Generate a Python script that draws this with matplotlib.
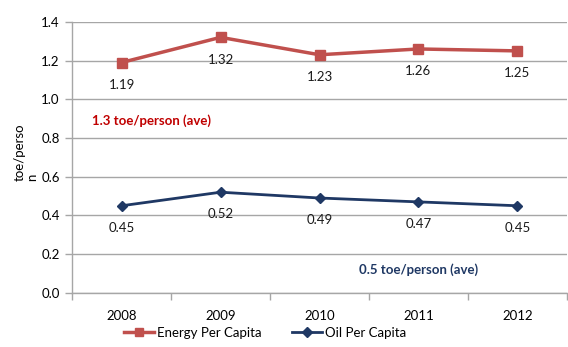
import matplotlib.pyplot as plt
import numpy as np

plt.rcParams['font.family'] = ['Lato', 'DejaVu Sans']

years = ['2008', '2009', '2010', '2011', '2012']
energy = [1.19, 1.32, 1.23, 1.26, 1.25]
oil = [0.45, 0.52, 0.49, 0.47, 0.45]

red = '#C0504D'
blue = '#1F3864'
grid = '#A6A6A6'

fig = plt.figure(figsize=(5.68, 3.47), dpi=100)
ax = fig.add_axes([0.127, 0.156, 0.871, 0.781])

x = np.arange(len(years))
ax.plot(x, energy, color=red, lw=2.5, marker='s', ms=6.5, label='Energy Per Capita')
ax.plot(x, oil, color=blue, lw=2.0, marker='D', ms=5.5, label='Oil Per Capita')

# value labels under each point
for xi, v in zip(x, energy):
    ax.annotate(f'{v:.2f}', (xi, v), xytext=(0, -16), textcoords='offset points',
                ha='center', va='center', fontsize=9.5, color='#1a1a1a')
for xi, v in zip(x, oil):
    ax.annotate(f'{v:.2f}', (xi, v), xytext=(0, -16), textcoords='offset points',
                ha='center', va='center', fontsize=9.5, color='#1a1a1a')

ax.text(0.3, 0.888, '1.3 toe/person (ave)', color='#C00000', fontsize=9.5,
        fontweight='bold', va='center', ha='center')
ax.text(3.0, 0.118, '0.5 toe/person (ave)', color=blue, fontsize=9.5,
        fontweight='bold', va='center', ha='center')

ax.set_xlim(-0.5, 4.5)
ax.set_ylim(0, 1.4)
ax.set_yticks(np.arange(0, 1.41, 0.2))
ax.set_yticklabels([f'{t:.1f}' for t in np.arange(0, 1.41, 0.2)])
ax.set_xticks(x)
ax.set_xticklabels(years)
ax.set_xticks(np.arange(-0.5, 4.6, 1), minor=True)
ax.tick_params(axis='x', which='major', length=0, pad=12, labelsize=9.5)
ax.tick_params(axis='x', which='minor', length=5, color=grid, width=1)
ax.tick_params(axis='y', length=5, color=grid, width=1, labelsize=9.5, pad=4)

ax.yaxis.grid(True, color=grid, lw=1)
ax.set_axisbelow(True)
for s in ['top', 'right']:
    ax.spines[s].set_visible(False)
for s in ['left', 'bottom']:
    ax.spines[s].set_color(grid)
    ax.spines[s].set_linewidth(1)

ylab = ax.set_ylabel('toe/perso\nn', fontsize=9.5, labelpad=2, linespacing=1.1)
ylab.set_multialignment('left')
ylab.set_y(0.52)

ax.legend(loc='center', bbox_to_anchor=(0.39, -0.148), ncol=2, frameon=False,
          fontsize=9.5, handlelength=2.3, columnspacing=2.3, handletextpad=0.2,
          markerscale=0.85)

fig.savefig('out.png', dpi=100)
